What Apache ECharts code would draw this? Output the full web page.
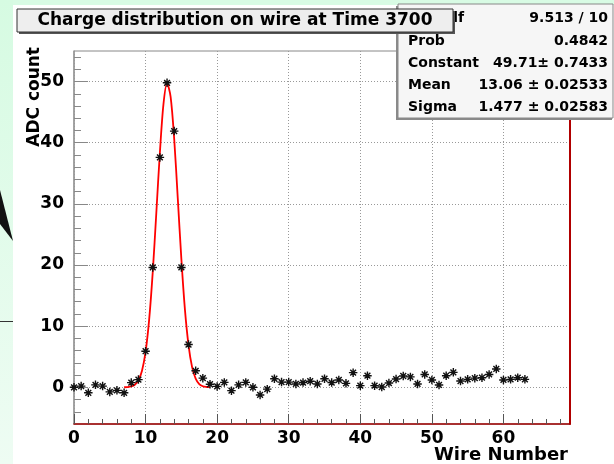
<!DOCTYPE html>
<html>
<head>
<meta charset="utf-8">
<script src="https://cdn.jsdelivr.net/npm/echarts@6/dist/echarts.min.js"></script>
<style>html,body{margin:0;padding:0;background:#fff;}#c{width:614px;height:464px;}</style>
</head>
<body>
<div id="c"></div>
<script>
// ---- data ----
const wires = [0,1,2,3,4,5,6,7,8,9,10,11,12,13,14,15,16,17,18,19,20,21,22,23,24,25,26,27,28,29,30,31,32,33,34,35,36,37,38,39,40,41,42,43,44,45,46,47,48,49,50,51,52,53,54,55,56,57,58,59,60,61,62,63];
const adc = [0,0.2,-0.9,0.4,0.2,-0.75,-0.5,-0.9,0.77,1.26,
             5.9,19.6,37.6,49.8,41.9,19.6,7.0,2.7,1.5,0.5,
             0.15,0.8,-0.55,0.4,0.8,0,-1.25,-0.3,1.4,0.85,
             0.85,0.55,0.78,1.0,0.55,1.4,0.78,1.2,0.65,2.4,
             0.27,1.9,0.27,0.05,0.7,1.35,1.85,1.7,0.55,2.1,
             1.2,0.38,1.9,2.45,1.03,1.3,1.5,1.57,2.1,3.0,
             1.2,1.3,1.57,1.3];
const fitX = [7,7.5,8,8.5,9,9.5,10,10.5,11,11.5,12,12.5,13,13.5,14,14.5,15,15.5,16,16.5,17,17.5,18,18.5,19];
const fitY = [0.01,0.04,0.14,0.42,1.14,2.72,5.8,11.07,18.8,28.5,38.4,46.3,49.7,47.5,40.6,30.9,21.0,12.7,6.9,3.3,1.42,0.54,0.18,0.056,0.015];
const xTicks = [0,10,20,30,40,50,60];
const xMinor = [2,4,6,8,12,14,16,18,22,24,26,28,32,34,36,38,42,44,46,48,52,54,56,58,62,64,66,68];
const yTicks = [0,10,20,30,40,50];
const yMinor = [-4,-2,2,4,6,8,12,14,16,18,22,24,26,28,32,34,36,38,42,44,46,48,52,54];
const title = 'Charge distribution on wire at Time 3700';
const xTitle = 'Wire Number';
const yTitle = 'ADC count';
const statLabels = ['\u03C7\u00B2 / ndf','Prob','Constant','Mean','Sigma'];
const statValues = ['9.513 / 10','0.4842','49.71\u00B1 0.7433','13.06 \u00B1 0.02533','1.477 \u00B1 0.02583'];

// ---- chart ----
const FONT = '"DejaVu Sans", "Liberation Sans", sans-serif';
const chart = echarts.init(document.getElementById('c'), null, {renderer:'canvas'});
const star = 'path://M0,5L10,5M5,0L5,10M1.6,1.6L8.4,8.4M8.4,1.6L1.6,8.4';

const graphics = [];
// background green margins
graphics.push({type:'rect', z:-10, shape:{x:0,y:0,width:614,height:5}, style:{fill:'#d8fbe4'}, silent:true});
graphics.push({type:'rect', z:-10, shape:{x:0,y:0,width:13,height:464},
  style:{fill:new echarts.graphic.LinearGradient(0,0,0,1,[{offset:0,color:'#d6fbe2'},{offset:1,color:'#eefcf3'}])}, silent:true});
graphics.push({type:'polygon', z:-5, shape:{points:[[0,190],[13,241],[0,224]]}, style:{fill:'#111'}, silent:true});
graphics.push({type:'line', z:-5, shape:{x1:0,y1:321.5,x2:13,y2:321.5}, style:{stroke:'#333',lineWidth:1}, silent:true});
// stats box
graphics.push({type:'rect', z:10, shape:{x:396,y:6,width:216,height:114}, style:{fill:'#8a8a8a'}, silent:true});
graphics.push({type:'rect', z:11, shape:{x:398,y:4,width:215,height:114}, style:{fill:'#f6f6f6', stroke:'#888', lineWidth:1}, silent:true});
const rowY = [18.5,41.5,63.5,85.5,107.5];
for (let i=0;i<statLabels.length;i++){
  graphics.push({type:'text', z:12, x:408, y:rowY[i], style:{text:statLabels[i], font:'bold 14px '+FONT, fill:'#000', align:'left', verticalAlign:'middle'}, silent:true});
  graphics.push({type:'text', z:12, x:608, y:rowY[i], style:{text:statValues[i], font:'bold 14px '+FONT, fill:'#000', align:'right', verticalAlign:'middle'}, silent:true});
}
// title box
graphics.push({type:'rect', z:20, shape:{x:19,y:11,width:436,height:23}, style:{fill:'#555'}, silent:true});
graphics.push({type:'rect', z:21, shape:{x:17,y:9,width:436,height:23}, style:{fill:'#eeeeee', stroke:'#333', lineWidth:1}, silent:true});
graphics.push({type:'text', z:22, x:235, y:21, style:{text:title, font:'bold 17px '+FONT, fill:'#000', align:'center', verticalAlign:'middle'}, silent:true});
// axis titles
graphics.push({type:'text', z:5, x:35, y:47, rotation:Math.PI/2, style:{text:yTitle, font:'bold 17px '+FONT, fill:'#000', align:'right', verticalAlign:'middle'}, silent:true});
graphics.push({type:'text', z:5, x:568, y:455, style:{text:xTitle, font:'bold 18px '+FONT, fill:'#000', align:'right', verticalAlign:'middle'}, silent:true});

const option = {
  backgroundColor:'#ffffff',
  animation:false,
  grid:{left:74, right:44, top:51, bottom:40, show:true, borderColor:'#888', borderWidth:1, backgroundColor:'#fff', z:0},
  xAxis:[
    {type:'value', min:0, max:69.3, position:'bottom', gridIndex:0,
     axisLine:{show:true, onZero:false, lineStyle:{color:'#a00000', width:1.5}},
     axisTick:{show:true, inside:true, length:10, customValues:xTicks, lineStyle:{color:'#555'}},
     axisLabel:{show:true, customValues:xTicks, margin:6, color:'#000', fontSize:17, fontWeight:'bold', fontFamily:FONT},
     splitLine:{show:true, lineStyle:{color:'#999', type:[1,2], width:1}}},
    {type:'value', min:0, max:69.3, position:'bottom', gridIndex:0,
     axisLine:{show:false, onZero:false},
     axisTick:{show:true, inside:true, length:5, customValues:xMinor, lineStyle:{color:'#555'}},
     axisLabel:{show:false}, splitLine:{show:false}}
  ],
  yAxis:[
    {type:'value', min:-6, max:55, position:'left', gridIndex:0,
     axisLine:{show:true, onZero:false, lineStyle:{color:'#999', width:1.5}},
     axisTick:{show:true, inside:true, length:14, customValues:yTicks, lineStyle:{color:'#888'}},
     axisLabel:{show:true, customValues:yTicks, margin:10, color:'#000', fontSize:17, fontWeight:'bold', fontFamily:FONT},
     splitLine:{show:true, lineStyle:{color:'#999', type:[1,2], width:1}}},
    {type:'value', min:-6, max:55, position:'left', gridIndex:0,
     axisLine:{show:false, onZero:false},
     axisTick:{show:true, inside:true, length:7, customValues:yMinor, lineStyle:{color:'#888'}},
     axisLabel:{show:false}, splitLine:{show:false}},
    {type:'value', min:-6, max:55, position:'right', gridIndex:0,
     axisLine:{show:true, onZero:false, lineStyle:{color:'#b00000', width:2}},
     axisTick:{show:false}, axisLabel:{show:false}, splitLine:{show:false}}
  ],
  series:[
    {type:'line', name:'fit', xAxisIndex:0, yAxisIndex:0, data:fitX.map((x,i)=>[x,fitY[i]]),
     smooth:0.3, showSymbol:false, symbol:'none', lineStyle:{color:'#ff0000', width:1.8}, z:3, silent:true},
    {type:'scatter', name:'ADC', xAxisIndex:0, yAxisIndex:0, data:wires.map((w,i)=>[w,adc[i]]),
     symbol:star, symbolSize:8.5, itemStyle:{color:'none', borderColor:'#111', borderWidth:1.4, opacity:1}, z:4, silent:true}
  ],
  graphic:graphics
};
chart.setOption(option);
</script>
</body>
</html>
